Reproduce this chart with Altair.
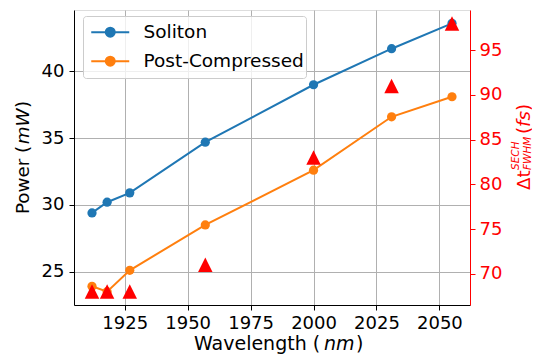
import altair as alt
import pandas as pd

# ---- data ----
wavelength = [1912, 1918, 1927, 1957, 2000, 2031, 2055]
soliton_power = [29.4, 30.2, 30.9, 34.7, 39.0, 41.7, 43.6]
compressed_power = [23.9, 23.5, 25.1, 28.5, 32.6, 36.6, 38.1]
pulse_width = [68.0, 68.0, 68.0, 71.0, 83.0, 91.0, 98.0]

series_names = ["Soliton", "Post-Compressed"]
series_colors = ["#1f77b4", "#ff7f0e"]

x_ticks = [1925, 1950, 1975, 2000, 2025, 2050]
power_ticks = [25, 30, 35, 40]
width_ticks = [70, 75, 80, 85, 90, 95]

x_domain = [1904.85, 2062.15]
power_domain = [22.5, 44.6]
width_domain = [66.5, 99.5]

power_df = pd.DataFrame({
    "wavelength": wavelength * 2,
    "power": soliton_power + compressed_power,
    "series": [series_names[0]] * len(wavelength) + [series_names[1]] * len(wavelength),
})
width_df = pd.DataFrame({"wavelength": wavelength, "width": pulse_width})

FONT = "DejaVu Sans"
GRID = "#b0b0b0"
W, H = 396, 295

x_enc = alt.X(
    "wavelength:Q",
    scale=alt.Scale(domain=x_domain, nice=False, zero=False),
    axis=alt.Axis(values=x_ticks, format="d", grid=True, gridColor=GRID, gridWidth=1,
                  domainColor="black", tickColor="black", tickSize=5, labelFontSize=18,
                  labelColor="black", labelFont=FONT, labelPadding=4, labelFlush=False,
                  title=None),
)

color_enc = alt.Color(
    "series:N",
    scale=alt.Scale(domain=series_names, range=series_colors),
    legend=alt.Legend(
        orient="none", legendX=9, legendY=6, title=None,
        symbolType="M-0.5,0L5.833,0M3.417,0A0.75,0.75,0,1,1,1.917,0A0.75,0.75,0,1,1,3.417,0Z",
        symbolSize=144, symbolStrokeWidth=2, symbolOpacity=1,
        labelFontSize=18.5, labelFont=FONT, labelColor="black", labelOffset=40,
        labelLimit=400, clipHeight=28.4, rowPadding=0, padding=2,
        fillColor="rgba(255,255,255,0.8)", strokeColor="#cccccc", cornerRadius=3,
    ),
)

y_power = alt.Y(
    "power:Q",
    scale=alt.Scale(domain=power_domain, nice=False, zero=False),
    axis=alt.Axis(values=power_ticks, grid=True, gridColor=GRID, gridWidth=1,
                  domainColor="black", tickColor="black", tickSize=5, labelFontSize=18,
                  labelColor="black", labelFont=FONT, labelPadding=5, title=None),
)

lines = alt.Chart(power_df).mark_line(strokeWidth=2).encode(
    x=x_enc, y=y_power, color=color_enc)
points = alt.Chart(power_df).mark_circle(size=85, opacity=1).encode(
    x=x_enc, y=y_power, color=color_enc)

triangles = alt.Chart(width_df).mark_point(
    shape="M0,-1L1,1L-1,1Z", filled=True, size=210, color="#ff0000", opacity=1
).encode(
    x=x_enc,
    y=alt.Y("width:Q",
            scale=alt.Scale(domain=width_domain, nice=False, zero=False),
            axis=alt.Axis(orient="right", values=width_ticks, grid=False,
                          domainColor="#ff0000", tickColor="#ff0000", tickSize=5,
                          labelColor="#ff0000", labelFontSize=18, labelFont=FONT,
                          labelPadding=4, title=None)),
)


def label(text, x, y, size, angle=0, italic=False, color="black"):
    kw = dict(align="left", baseline="alphabetic", font=FONT, fontSize=size,
              color=color, angle=angle)
    if italic:
        kw["fontStyle"] = "italic"
    return alt.Chart(alt.Data(values=[{}])).mark_text(**kw).encode(
        x=alt.value(x), y=alt.value(y), text=alt.value(text))


titles = [
    # x title
    label("Wavelength (", 120, 340, 19),
    label("nm", 250, 340, 19, italic=True),
    label(")", 282, 340, 19),
    # left y title
    label("Power (", -44.7, 204, 18.3, angle=270),
    label("mW", -44.7, 134.3, 18.3, angle=270, italic=True),
    label(")", -44.7, 98, 18.3, angle=270),
    # right y title
    label("Δt", 455.5, 180, 18.3, angle=270, color="#ff0000"),
    label("SECH", 444.7, 160, 10.5, angle=270, italic=True, color="#ff0000"),
    label("FWHM", 456.5, 160, 10.5, angle=270, italic=True, color="#ff0000"),
    label("(", 455.5, 124, 18.3, angle=270, color="#ff0000"),
    label("fs", 455.5, 116.9, 18.3, angle=270, italic=True, color="#ff0000"),
    label(")", 455.5, 100.9, 18.3, angle=270, color="#ff0000"),
]

chart = alt.layer(
    alt.layer(lines, points),
    triangles,
    *titles,
).resolve_scale(y="independent").properties(
    width=W, height=H,
    autosize=alt.AutoSizeParams(type="none"),
    padding={"left": 66, "top": 2, "right": 62, "bottom": 50},
).configure_view(stroke="black", strokeWidth=1).configure(background="white")

chart.save("out.html", embed_options={"renderer": "svg", "actions": False})
